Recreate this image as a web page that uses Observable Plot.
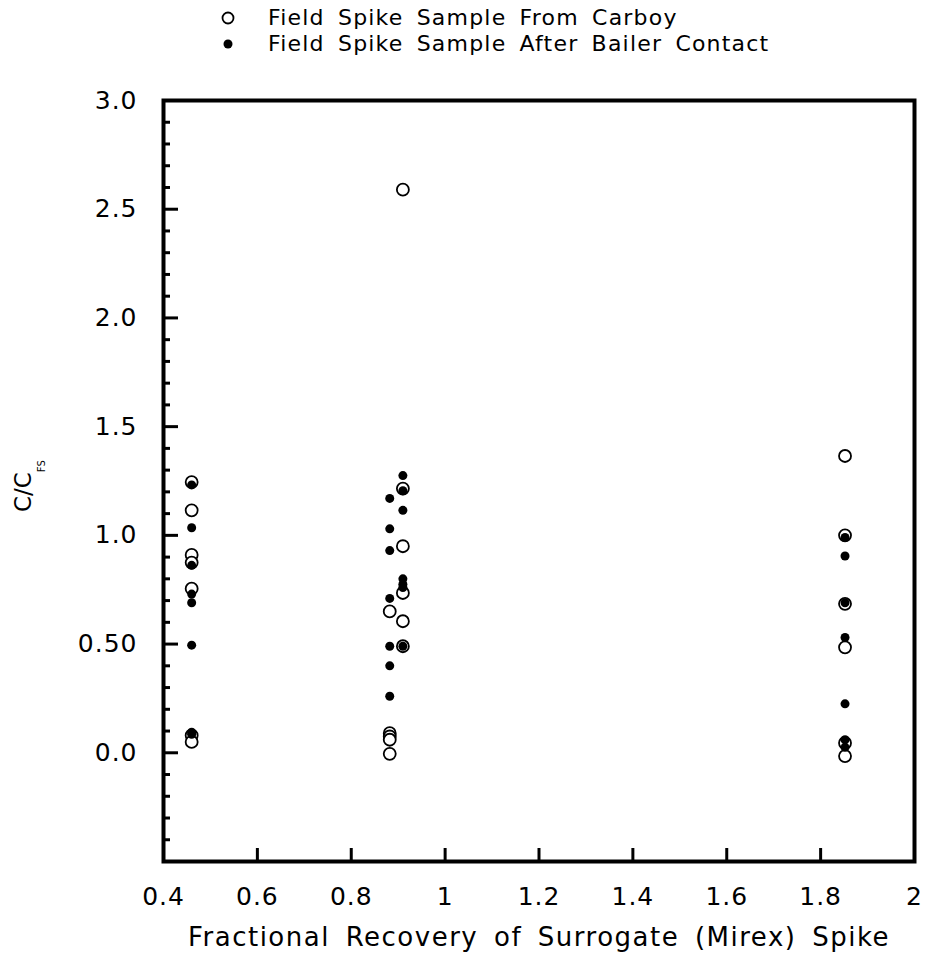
<!DOCTYPE html>
<html><head><meta charset="utf-8">
<script src="https://cdn.jsdelivr.net/npm/d3@7"></script>
<script src="https://cdn.jsdelivr.net/npm/@observablehq/plot@0.6"></script>
<style>
body{margin:0;background:#fff;font-family:"DejaVu Sans",sans-serif;color:#000;}
#legend{position:relative;width:925px;height:70px;}
#legend .row{position:absolute;left:0;height:26px;width:925px;}
#legend .lbl{position:absolute;left:268px;top:0;font-size:22px;letter-spacing:1.2px;word-spacing:5px;white-space:nowrap;line-height:26px;}
#legend svg{position:absolute;left:218px;top:3px;}
#chart svg text{font-family:"DejaVu Sans",sans-serif;}
</style></head><body>
<div id="legend"></div>
<div id="chart"></div>
<script>
// Data
const recoveries = [0.46, 0.882, 0.91, 1.852];
const carboyValues = [
  [1.245, 1.115, 0.91, 0.875, 0.755, 0.08, 0.05],
  [0.65, 0.09, 0.075, 0.06, -0.005],
  [2.59, 1.215, 0.95, 0.735, 0.605, 0.49],
  [1.365, 1.0, 0.685, 0.485, 0.045, -0.015]
];
const bailerValues = [
  [1.232, 1.035, 0.862, 0.73, 0.69, 0.495, 0.095, 0.085],
  [1.17, 1.03, 0.93, 0.71, 0.49, 0.40, 0.26],
  [1.275, 1.205, 1.115, 0.80, 0.775, 0.76, 0.49],
  [0.99, 0.905, 0.69, 0.53, 0.225, 0.06, 0.025]
];
const seriesNames = ["Field Spike Sample From Carboy", "Field Spike Sample After Bailer Contact"];
const xTicks = [0.4, 0.6, 0.8, 1, 1.2, 1.4, 1.6, 1.8, 2];
const xTickLabels = ["0.4", "0.6", "0.8", "1", "1.2", "1.4", "1.6", "1.8", "2"];
const yTicks = [0, 0.5, 1, 1.5, 2, 2.5, 3];
const yTickLabels = ["0.0", "0.50", "1.0", "1.5", "2.0", "2.5", "3.0"];
const yMinorTicks = d3.range(-4, 30).filter(d => d % 5 !== 0).map(d => d / 10);
const xTitle = "Fractional Recovery of Surrogate (Mirex) Spike";

const carboy = recoveries.flatMap((x, i) => carboyValues[i].map(y => ({x, y})));
const bailer = recoveries.flatMap((x, i) => bailerValues[i].map(y => ({x, y})));

// Legend
const legend = document.getElementById("legend");
seriesNames.forEach((name, i) => {
  const row = document.createElement("div");
  row.className = "row";
  row.style.top = (5 + i * 26) + "px";
  row.innerHTML = `<svg width="20" height="20" viewBox="-10 -10 20 20">${i === 0
    ? '<circle r="5.5" fill="white" stroke="black" stroke-width="1.8"/>'
    : '<circle r="4.5" fill="black"/>'}</svg><span class="lbl">${name}</span>`;
  legend.appendChild(row);
});

const fmtX = d => xTickLabels[xTicks.indexOf(d)];
const fmtY = d => yTickLabels[yTicks.indexOf(d)];

const plot = Plot.plot({
  width: 925,
  height: 903,
  marginLeft: 163,
  marginRight: 11,
  marginTop: 30,
  marginBottom: 112,
  x: {domain: [0.4, 2.0]},
  y: {domain: [-0.5, 3.0]},
  marks: [
    Plot.axisY({ticks: yMinorTicks, tickSize: -7, text: null, strokeWidth: 3, label: null}),
    Plot.axisY({ticks: yTicks, tickSize: -15, text: null, strokeWidth: 3, label: null}),
    Plot.axisY({ticks: yTicks, tickSize: 0, tickPadding: 26, tickFormat: fmtY, fontSize: 25, label: null}),
    Plot.axisX({ticks: xTicks.slice(1, -1), tickSize: -13, text: null, strokeWidth: 3, label: null}),
    Plot.axisX({ticks: xTicks, tickSize: 0, tickPadding: 26, tickFormat: fmtX, fontSize: 25, label: null}),
    Plot.text([xTitle], {frameAnchor: "bottom", dy: 84, text: d => d, fontSize: 26}),
    Plot.frame({stroke: "black", strokeWidth: 4}),
    Plot.dot(carboy, {x: "x", y: "y", r: 6, fill: "white", stroke: "black", strokeWidth: 1.8}),
    Plot.dot(bailer, {x: "x", y: "y", r: 4.5, fill: "black", stroke: "none"})
  ]
});
document.getElementById("chart").appendChild(plot);

const svg = d3.select(plot);
svg.selectAll('[aria-label="y-axis tick label"] text, [aria-label="x-axis tick label"] text').style("letter-spacing", "1px");
svg.selectAll('[aria-label="text"] text').style("letter-spacing", "1.5px").style("word-spacing", "6px");

// Y-axis label with subscript
const yl = svg.append("text")
  .attr("transform", "translate(31,442) rotate(-90)")
  .attr("text-anchor", "start")
  .attr("font-size", 23)
  .attr("font-family", "DejaVu Sans, sans-serif")
  .attr("fill", "black");
yl.append("tspan").text("C/C");
yl.append("tspan").attr("font-size", 10).attr("dy", 14).text("FS");
</script>
</body></html>
